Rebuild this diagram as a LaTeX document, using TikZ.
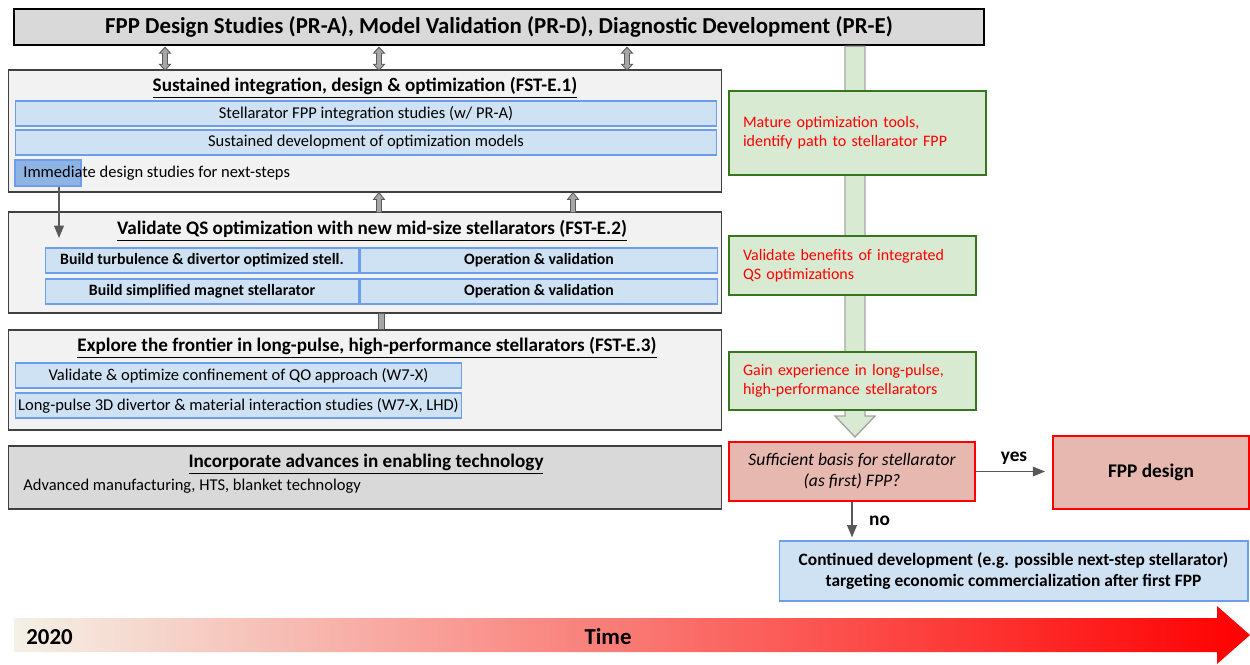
\documentclass[tikz,border=0pt]{standalone}
\usepackage{fontspec}
\setmainfont{Carlito}
\usepackage{xcolor}
\usepackage{tikz}
\usetikzlibrary{positioning,calc,arrows.meta}

\definecolor{barblue}{HTML}{CFE2F3}
\definecolor{barline}{HTML}{6D9EEB}
\definecolor{immblue}{HTML}{8EB4E3}
\definecolor{fstgray}{HTML}{F2F2F2}
\definecolor{techgray}{HTML}{D9D9D9}
\definecolor{edgegray}{HTML}{404040}
\definecolor{goalgreen}{HTML}{D9EAD3}
\definecolor{goalline}{HTML}{38761D}
\definecolor{askred}{HTML}{E6B8AF}
\definecolor{linkgray}{HTML}{A6A6A6}
\definecolor{tipgray}{HTML}{595959}
\definecolor{timestart}{HTML}{F4F1E6}
\definecolor{timemid}{HTML}{F4A39C}

\tikzset{
  fstbox/.style={draw=edgegray, fill=fstgray, line width=0.6pt, minimum width=14.28cm, inner sep=0},
  headtxt/.style={inner sep=0, font=\fontsize{10.9}{13}\selectfont\bfseries},
  bodytxt/.style={inner sep=0, font=\fontsize{9.4}{11}\selectfont},
  bar/.style={draw=barline, fill=barblue, line width=0.6pt, minimum height=0.5cm, inner sep=0, font=\fontsize{9.4}{11}\selectfont},
  rowbar/.style={bar, font=\fontsize{9}{11}\selectfont\bfseries},
  goal/.style={draw=goalline, fill=goalgreen, line width=1.1pt, align=left, inner xsep=0.28cm, text=red, font=\fontsize{9.1}{10.6}\selectfont},
  askbox/.style={draw=red, fill=askred, line width=1.1pt, align=center, inner sep=0},
  dbl/.style={draw=tipgray, fill=linkgray, line width=0.5pt},
  stem/.style={draw=linkgray, fill=goalgreen, line width=0.8pt},
  conn/.style={draw=tipgray, line width=0.9pt, -{Triangle[length=7pt,width=5.5pt]}},
  flag/.style={font=\fontsize{11}{13}\selectfont\bfseries}
}

\begin{document}
\begin{tikzpicture}[x=0.02cm, y=-0.02cm]
\useasboundingbox (0,0) rectangle (1250,664);

% programme bar on top
\node[draw=black, fill=techgray, line width=1.4pt, minimum width=19.4cm, minimum height=0.72cm, inner sep=0,
      font=\fontsize{13}{15}\selectfont\bfseries] (prog) at (499,27)
  {FPP Design Studies (PR-A), Model Validation (PR-D), Diagnostic Development (PR-E)};

% green arrow behind the goals
\draw[stem] (845,0 |- prog.south) -- (865,0 |- prog.south) -- (865,416) -- (875,416)
  -- (855,437) -- (835,416) -- (845,416) -- cycle;

% FST-E.1
\node[fstbox, minimum height=2.44cm] (fst1) at (365,131) {};
\node[headtxt] (fst1t) at (365,88) {\underline{Sustained integration, design \& optimization (FST-E.1)}};
\node[bar, minimum width=14.04cm] (integ) at (366,113.5) {Stellarator FPP integration studies (w/ PR-A)};
\node[bar, minimum width=14.04cm] (models) at (366,142.5) {Sustained development of optimization models};
\node[bar, fill=immblue, minimum width=1.32cm, minimum height=0.52cm] (imm) at (48,173) {};
\node[bodytxt, anchor=west] (immt) at (23,173) {Immediate design studies for next-steps};

% FST-E.2
\node[fstbox, minimum height=2.02cm] (fst2) at (365,262.5) {};
\node[headtxt] (fst2t) at (372,231) {\underline{Validate QS optimization with new mid-size stellarators (FST-E.2)}};
\node[rowbar, minimum width=6.28cm] (turb) at (202,260.5) {Build turbulence \& divertor optimized stell.};
\node[rowbar, minimum width=7.16cm, right=0pt of turb] (turbop) {Operation \& validation};
\node[rowbar, minimum width=6.28cm] (magnet) at (202,291.5) {Build simplified magnet stellarator};
\node[rowbar, minimum width=7.16cm, right=0pt of magnet] (magnetop) {Operation \& validation};

% FST-E.3
\node[fstbox, minimum height=2cm] (fst3) at (365,380) {};
\node[headtxt] (fst3t) at (367,348) {\underline{Explore the frontier in long-pulse, high-performance stellarators (FST-E.3)}};
\node[bar, minimum width=8.94cm] (qo) at (238.5,375.5) {Validate \& optimize confinement of QO approach (W7-X)};
\node[bar, minimum width=8.94cm] (lp) at (238.5,405.5) {Long-pulse 3D divertor \& material interaction studies (W7-X, LHD)};

% enabling technology
\node[fstbox, fill=techgray, minimum height=1.26cm] (tech) at (365,477.5) {};
\node[headtxt] (techt) at (366,464) {\underline{Incorporate advances in enabling technology}};
\node[bodytxt, anchor=west] (techb) at (23,486) {Advanced manufacturing, HTS, blanket technology};

% links between the blocks
\foreach \ax in {165,379,627}
  \draw[dbl] (\ax,0 |- prog.south) ++(0,1) -- ++(5.5,6) -- ++(-3,0) -- ++(0,11) -- ++(3,0)
    -- ++(-5.5,6) -- ++(-5.5,-6) -- ++(3,0) -- ++(0,-11) -- ++(-3,0) -- cycle;
\foreach \ax in {379,573}
  \draw[dbl] (\ax,0 |- fst1.south) -- ++(5.5,7) -- ++(-3,0) -- ++(0,13) -- ++(-5,0)
    -- ++(0,-13) -- ++(-3,0) -- cycle;
\draw[dbl] (378,0 |- fst2.south) rectangle (384,0 |- fst3.north);
\draw[conn] (59,0 |- imm.south) -- (59,238);

% goals
\node[goal, text width=4.58cm, minimum height=1.68cm] (g1) at (857.5,133)
  {Mature optimization tools,\\identify path to stellarator FPP};
\node[goal, text width=4.38cm, minimum height=1.18cm] (g2) at (852.5,265.5)
  {Validate benefits of integrated\\QS optimizations};
\node[goal, text width=4.38cm, minimum height=1.16cm] (g3) at (852.5,381)
  {Gain experience in long-pulse,\\high-performance stellarators};

% decision
\node[askbox, minimum width=4.92cm, minimum height=1.18cm, font=\fontsize{10}{12}\selectfont\itshape] (ask) at (852,471.5)
  {Sufficient basis for stellarator\\(as first) FPP?};
\node[askbox, minimum width=3.92cm, minimum height=1.46cm, font=\fontsize{11}{13}\selectfont\bfseries] (fpp) at (1151,472.5)
  {FPP design};
\node[bar, minimum width=9.38cm, minimum height=1.2cm, align=center, font=\fontsize{9.9}{11.4}\selectfont\bfseries] (cont) at (1013.5,571)
  {Continued development (e.g. possible next-step stellarator)\\targeting economic commercialization after first FPP};
\draw[conn, shorten >=0.14cm] (ask.east) -- (ask.east -| fpp.west) node[midway, above, flag] {yes};
\draw[conn, shorten >=0.06cm] (ask.south) -- (ask.south |- cont.north) node[midway, right, flag, xshift=6pt] {no};

% time axis
\shade[left color=timestart, middle color=timemid, right color=red] (14,618) -- (1217,618) -- (1217,606)
  -- (1250,635) -- (1217,664) -- (1217,652) -- (14,652) -- cycle;
\node[anchor=west, inner sep=0, font=\fontsize{13}{15}\selectfont\bfseries] (year) at (26,637) {2020};
\node[inner sep=0, font=\fontsize{13}{15}\selectfont\bfseries] (time) at (608,637) {Time};
\end{tikzpicture}
\end{document}
